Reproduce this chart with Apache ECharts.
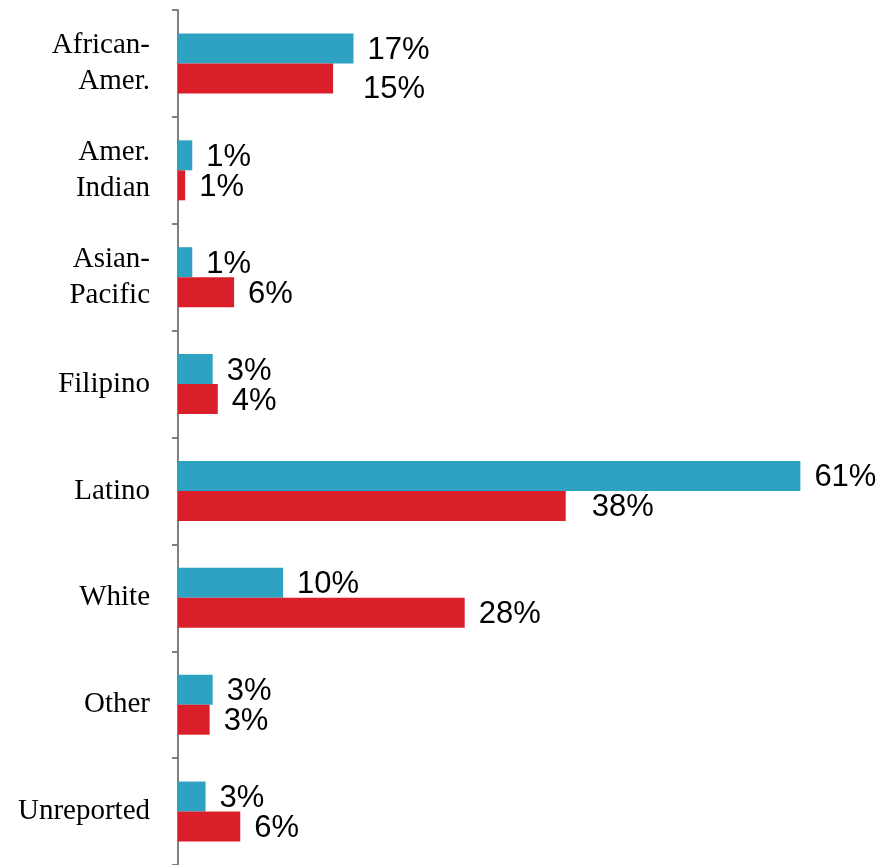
<!DOCTYPE html>
<html>
<head>
<meta charset="utf-8">
<script src="https://cdn.jsdelivr.net/npm/echarts@6/dist/echarts.min.js"></script>
<style>
html,body{margin:0;padding:0;background:#fff;}
#chart{width:882px;height:865px;}
</style>
</head>
<body>
<div id="chart"></div>
<script>
// Data
var categories = ['African-\nAmer.', 'Amer.\nIndian', 'Asian-\nPacific', 'Filipino', 'Latino', 'White', 'Other', 'Unreported'];
var seriesA = [17.2, 1.4, 1.4, 3.4, 61.0, 10.3, 3.4, 2.7];   // teal
var seriesB = [15.2, 0.7, 5.5, 3.9, 38.0, 28.1, 3.1, 6.1];   // red

var tealColor = '#2ea3c1';
var redColor = '#db1f2a';

function pct(p) { return Math.round(p.value) + '%'; }

var labelBase = {
  show: true,
  position: 'right',
  distance: 14,
  color: '#000',
  fontFamily: 'Liberation Sans, Arial, sans-serif',
  fontSize: 31,
  offset: [0, 2],
  formatter: pct
};

// a couple of labels in the reference sit a little further out
var dataB = seriesB.map(function (v, i) {
  if (i === 0) return { value: v, label: { offset: [16, 11] } };
  if (i === 4) return { value: v, label: { offset: [12, 2] } };
  return v;
});

var chart = echarts.init(document.getElementById('chart'));
chart.setOption({
  animation: false,
  grid: { left: 178, right: 0, top: 10, bottom: 0, containLabel: false },
  xAxis: {
    type: 'value', min: 0, max: 69,
    show: false
  },
  yAxis: {
    type: 'category',
    data: categories,
    inverse: true,
    axisLine: { show: true, lineStyle: { color: '#808080', width: 2 } },
    axisTick: { show: true, length: 6, lineStyle: { color: '#808080', width: 2 } },
    axisLabel: {
      margin: 28,
      color: '#000',
      fontFamily: 'Liberation Serif, Times New Roman, serif',
      fontSize: 29,
      lineHeight: 36,
      align: 'right'
    },
    splitLine: { show: false }
  },
  series: [
    {
      type: 'bar', data: seriesA, barWidth: 30, barGap: '0%',
      itemStyle: { color: tealColor },
      label: labelBase
    },
    {
      type: 'bar', data: dataB, barWidth: 30, barGap: '0%',
      itemStyle: { color: redColor },
      label: labelBase
    }
  ]
});
</script>
</body>
</html>
